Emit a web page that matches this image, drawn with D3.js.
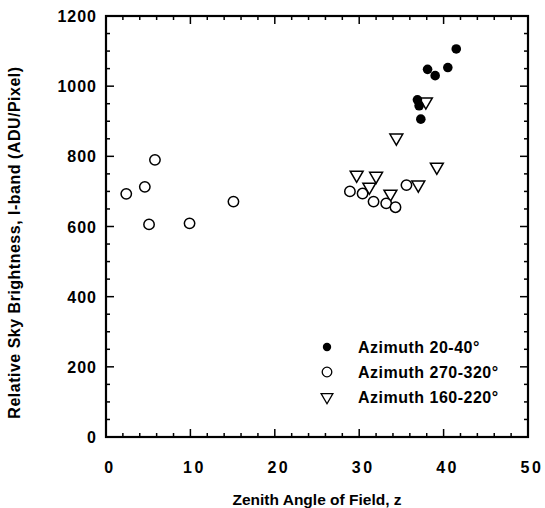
<!DOCTYPE html>
<html>
<head>
	<title>Sky Brightness</title>
	<style type="text/css">
		body { margin: 0; background: white; }
		text { font-family: "Liberation Sans", Arial, sans-serif; font-weight: bold; fill: black; }
	</style>
</head>
<body>

	<svg width=545 height=508 class="chart"></svg>

	<script type="text/javascript" src="https://cdn.jsdelivr.net/npm/d3@7/dist/d3.min.js"></script>

	<script type="text/javascript">

		// data: [zenith angle, brightness]
		az20_40 = [[41.5, 1106], [38.1, 1048], [39.0, 1030], [40.5, 1053], [36.9, 961], [37.1, 944], [37.3, 906]]
		az270_320 = [[2.4, 693], [4.6, 713], [5.8, 790], [5.1, 606], [9.9, 609], [15.1, 671],
			[28.9, 700], [30.4, 694], [31.7, 671], [33.2, 666], [34.3, 655], [35.6, 718]]
		az160_220 = [[37.9, 956], [34.4, 853], [39.2, 770], [29.7, 747], [32.0, 744], [31.2, 713], [37.0, 719], [33.7, 693]]

		x_ticks = [0, 10, 20, 30, 40, 50]
		y_ticks = [0, 200, 400, 600, 800, 1000, 1200]
		legend_labels = ['Azimuth 20-40°', 'Azimuth 270-320°', 'Azimuth 160-220°']

		margin = {'top': 16, 'right': 17, 'bottom': 71, 'left': 106}
		svg = d3.select('.chart')
		width = +svg.attr('width') - margin.left - margin.right
		height = +svg.attr('height') - margin.top - margin.bottom

		x = d3.scaleLinear().domain([0, 50]).range([0, width])
		y = d3.scaleLinear().domain([0, 1200]).range([height, 0])

		g = svg.append('g').attr('transform', 'translate(' + margin.left + ',' + margin.top + ')')

		// inward ticks on all four sides
		x_minor = d3.range(0, 51, 2)
		y_minor = d3.range(0, 1201, 50)

		function tick_len(v, step) { return v % step == 0 ? 8 : 4 }

		g.selectAll('.xt-b').data(x_minor).enter().append('line')
			.attr('x1', d => x(d)).attr('x2', d => x(d))
			.attr('y1', height).attr('y2', d => height - tick_len(d, 10))
			.attr('stroke', 'black').attr('stroke-width', 1.5)
		g.selectAll('.xt-t').data(x_minor).enter().append('line')
			.attr('x1', d => x(d)).attr('x2', d => x(d))
			.attr('y1', 0).attr('y2', d => tick_len(d, 10))
			.attr('stroke', 'black').attr('stroke-width', 1.5)
		g.selectAll('.yt-l').data(y_minor).enter().append('line')
			.attr('y1', d => y(d)).attr('y2', d => y(d))
			.attr('x1', 0).attr('x2', d => tick_len(d, 200))
			.attr('stroke', 'black').attr('stroke-width', 1.5)
		g.selectAll('.yt-r').data(y_minor).enter().append('line')
			.attr('y1', d => y(d)).attr('y2', d => y(d))
			.attr('x1', width).attr('x2', d => width - tick_len(d, 200))
			.attr('stroke', 'black').attr('stroke-width', 1.5)

		g.append('rect')
			.attr('width', width).attr('height', height)
			.attr('fill', 'none').attr('stroke', 'black').attr('stroke-width', 2.2)

		// tick labels
		g.selectAll('.xl').data(x_ticks).enter().append('text')
			.attr('x', d => x(d) + 4).attr('y', height + 36)
			.attr('text-anchor', 'middle')
			.style('font-size', '16px').style('letter-spacing', '2.5px')
			.text(d => d)
		g.selectAll('.yl').data(y_ticks).enter().append('text')
			.attr('x', -9).attr('y', d => y(d) + 6)
			.attr('text-anchor', 'end')
			.style('font-size', '16px').style('letter-spacing', '1px')
			.text(d => d)

		// axis titles
		g.append('text')
			.attr('x', width / 2).attr('y', height + 68)
			.attr('text-anchor', 'middle')
			.style('font-size', '15.5px')
			.text('Zenith Angle of Field, z')
		g.append('text')
			.attr('transform', 'translate(' + (-86) + ',' + (height / 2 + 16) + ') rotate(-90)')
			.attr('text-anchor', 'middle')
			.style('font-size', '16px').style('letter-spacing', '0.5px')
			.text('Relative Sky Brightness, I-band (ADU/Pixel)')

		tri = d3.symbol().type(d3.symbolTriangle)

		g.selectAll('.tri').data(az160_220).enter().append('path')
			.attr('d', tri.size(72)())
			.attr('transform', d => 'translate(' + x(d[0]) + ',' + y(d[1]) + ') rotate(180)')
			.attr('fill', 'white').attr('stroke', 'black').attr('stroke-width', 1.5)

		g.selectAll('.open').data(az270_320).enter().append('circle')
			.attr('cx', d => x(d[0])).attr('cy', d => y(d[1])).attr('r', 5.2)
			.attr('fill', 'white').attr('stroke', 'black').attr('stroke-width', 1.5)

		g.selectAll('.filled').data(az20_40).enter().append('circle')
			.attr('cx', d => x(d[0])).attr('cy', d => y(d[1])).attr('r', 4.8)
			.attr('fill', 'black')

		// legend
		legend = g.append('g').attr('transform', 'translate(' + (327 - margin.left) + ',' + (347 - margin.top) + ')')
		legend.append('circle').attr('cx', 0).attr('cy', 0).attr('r', 4.2).attr('fill', 'black')
		legend.append('circle').attr('cx', 0).attr('cy', 25).attr('r', 4.8)
			.attr('fill', 'white').attr('stroke', 'black').attr('stroke-width', 1.3)
		legend.append('path').attr('d', tri.size(60)())
			.attr('transform', 'translate(0,50) rotate(180)')
			.attr('fill', 'white').attr('stroke', 'black').attr('stroke-width', 1.3)
		legend.selectAll('.lt').data(legend_labels).enter().append('text')
			.attr('x', 31).attr('y', (d, i) => i * 25 + 6)
			.style('font-size', '16px').style('letter-spacing', '0.5px')
			.text(d => d)

	</script>

</body>
</html>
